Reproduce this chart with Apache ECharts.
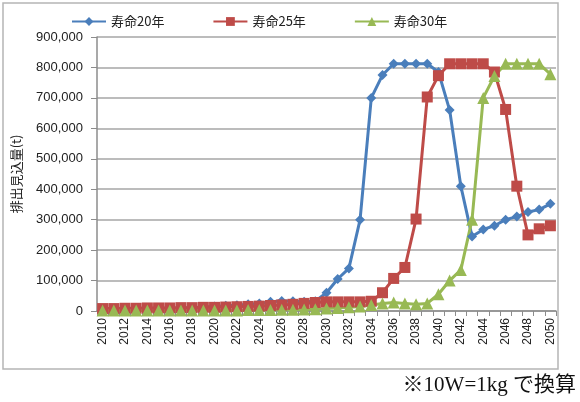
<!DOCTYPE html>
<html lang="ja">
<head>
<meta charset="UTF-8">
<script src="https://cdn.jsdelivr.net/npm/echarts@6/dist/echarts.min.js"></script>
<title>排出見込量</title>
<style>
html, body { margin: 0; padding: 0; background: #fff; }
#chart { width: 580px; height: 402px; }
</style>
</head>
<body>
<div id="chart"></div>
<script>
// 年 (2010〜2050)
var years = [];
for (var y = 2010; y <= 2050; y++) { years.push(String(y)); }

var seriesNames = ['寿命20年', '寿命25年', '寿命30年'];

// 寿命20年
var life20 = [
    3000, 4000, 5000, 6000, 7000, 8000, 9000, 10000, 11000, 13000,
    15000, 17000, 19000, 22000, 25000, 30000, 33000, 32000, 30000, 32000,
    60000, 105000, 140000, 300000, 700000, 775000, 812000, 812000, 812000, 812000,
    785000, 660000, 410000, 245000, 268000, 280000, 300000, 310000, 325000, 333000,
    352000
];
// 寿命25年
var life25 = [
    8000, 8000, 9000, 9000, 10000, 10000, 10000, 11000, 11000, 12000,
    12000, 13000, 14000, 15000, 16000, 18000, 20000, 22000, 25000, 28000,
    30000, 30000, 30000, 30000, 32000, 60000, 107000, 143000, 302000, 703000,
    773000, 812000, 812000, 812000, 812000, 785000, 662000, 410000, 250000, 270000,
    280000
];
// 寿命30年
var life30 = [
    2000, 2000, 2000, 2000, 2000, 2000, 2000, 2000, 2000, 2000,
    2000, 2000, 2000, 3000, 3000, 3000, 4000, 4000, 5000, 6000,
    8000, 10000, 12000, 15000, 20000, 25000, 28000, 25000, 22000, 25000,
    55000, 100000, 135000, 300000, 700000, 772000, 812000, 812000, 812000, 812000,
    778000
];

var yTicks = { min: 0, max: 900000, interval: 100000 };

var colors = ['#4a7ebb', '#be4b48', '#98b954'];
var symbols = ['diamond', 'rect', 'triangle'];
var symbolSizes = [10, 11, 12];
var dataList = [life20, life25, life30];

var series = [];
for (var i = 0; i < 3; i++) {
    series.push({
        name: seriesNames[i],
        type: 'line',
        data: dataList[i],
        symbol: symbols[i],
        symbolSize: symbolSizes[i],
        showAllSymbol: true,
        lineStyle: { color: colors[i], width: 3 },
        itemStyle: { color: colors[i] }
    });
}

var chart = echarts.init(document.getElementById('chart'));
chart.setOption({
    animation: false,
    textStyle: { fontFamily: 'Liberation Sans, "Noto Sans CJK JP", sans-serif' },
    color: colors,
    legend: {
        top: 10,
        left: 66,
        itemWidth: 34,
        itemHeight: 11,
        itemGap: 48,
        textStyle: { fontSize: 13, color: '#222', fontFamily: '"Noto Sans CJK JP", sans-serif' },
        data: seriesNames
    },
    grid: { left: 97, right: 24, top: 37, bottom: 91 },
    xAxis: {
        type: 'category',
        data: years,
        boundaryGap: true,
        axisLine: { lineStyle: { color: '#8c8c8c', width: 1.5 } },
        axisTick: { show: true, interval: 0, length: 5, lineStyle: { color: '#8c8c8c' } },
        axisLabel: { interval: 1, rotate: 90, fontSize: 12, color: '#222', margin: 7 }
    },
    yAxis: {
        type: 'value',
        min: yTicks.min,
        max: yTicks.max,
        interval: yTicks.interval,
        name: '排出見込量(t)',
        nameLocation: 'middle',
        nameGap: 74,
        nameTextStyle: { fontSize: 13, color: '#222', fontFamily: '"Noto Sans CJK JP", sans-serif' },
        axisLine: { show: true, lineStyle: { color: '#8c8c8c', width: 1.5 } },
        axisTick: { show: true, length: 6, lineStyle: { color: '#8c8c8c' } },
        axisLabel: {
            fontSize: 13, color: '#222', margin: 14,
            formatter: function (v) { return v.toLocaleString('en-US'); }
        },
        splitLine: { lineStyle: { color: '#a6a6a6', width: 1.5 } }
    },
    graphic: [
        {
            type: 'rect',
            shape: { x: 3, y: 3, width: 555, height: 366 },
            style: { fill: 'none', stroke: '#b5b5b5', lineWidth: 1.5 },
            silent: true
        },
        {
            type: 'text',
            right: 4,
            top: 375,
            style: {
                text: '※10W=1kg で換算',
                fontSize: 21,
                fill: '#111',
                fontFamily: '"Liberation Serif", "Noto Sans CJK JP", serif'
            }
        }
    ],
    series: series
});
</script>
</body>
</html>
